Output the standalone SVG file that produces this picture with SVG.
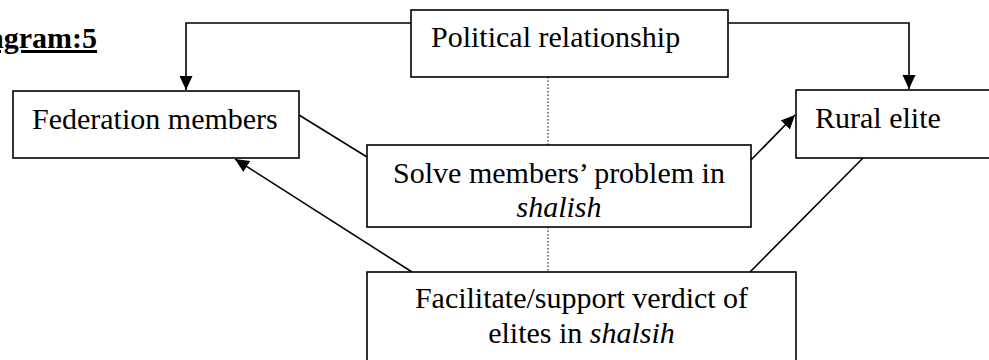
<svg xmlns="http://www.w3.org/2000/svg" width="989" height="360" viewBox="0 0 989 360">
<style>
.box{fill:#fff;stroke:#000;stroke-width:1.6}
.t{font-family:"Liberation Serif","Times New Roman",serif;font-size:30px;fill:#000}
.c{text-anchor:middle}
.ln{fill:none;stroke:#000;stroke-width:1.6}
.dot{fill:none;stroke:#000;stroke-width:1;stroke-dasharray:1.5,2}
</style>
<defs>
<marker id="ah" markerUnits="userSpaceOnUse" markerWidth="16" markerHeight="16" viewBox="0 0 16 16" refX="14" refY="8" orient="auto">
<path d="M0,1.5 L14,8 L0,14.5 Z" fill="#000"/>
</marker>
</defs>
<g id="title">
<text class="t" x="97" y="48" text-anchor="end" font-weight="bold" text-decoration="underline">Diagram:5</text>
</g>
<g id="connectors">
<path class="ln" d="M411,23 H186 V90" marker-end="url(#ah)"/>
<path class="ln" d="M728,23 H909 V89" marker-end="url(#ah)"/>
<line class="dot" x1="548" y1="77" x2="548" y2="145"/>
<line class="dot" x1="548" y1="227" x2="548" y2="272"/>
<line class="ln" x1="299" y1="115" x2="367" y2="157"/>
<line class="ln" x1="751" y1="160" x2="795" y2="115" marker-end="url(#ah)"/>
<line class="ln" x1="412" y1="272" x2="235" y2="159" marker-end="url(#ah)"/>
<line class="ln" x1="863" y1="158" x2="750" y2="272"/>
</g>
<g id="political">
<rect class="box" x="411" y="10" width="317" height="67"/>
<text class="t" x="431" y="47">Political relationship</text>
</g>
<g id="federation">
<rect class="box" x="13" y="91" width="286" height="67"/>
<text class="t" x="32" y="129">Federation members</text>
</g>
<g id="rural">
<rect class="box" x="796" y="90" width="200" height="68"/>
<text class="t" x="815" y="128">Rural elite</text>
</g>
<g id="solve">
<rect class="box" x="367" y="145" width="384" height="82"/>
<text class="t c" x="559" y="183">Solve members’ problem in</text>
<text class="t c" x="559" y="217" font-style="italic">shalish</text>
</g>
<g id="facilitate">
<rect class="box" x="367" y="272" width="429" height="95"/>
<text class="t c" x="581.5" y="308">Facilitate/support verdict of</text>
<text class="t c" x="581.5" y="343">elites in <tspan font-style="italic">shalsih</tspan></text>
</g>
</svg>
